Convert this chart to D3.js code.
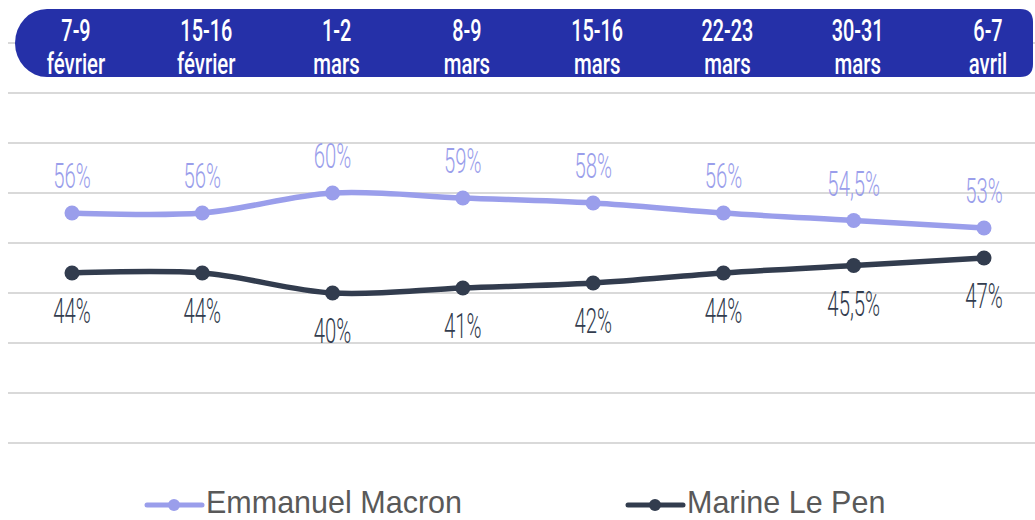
<!DOCTYPE html>
<html>
<head>
<meta charset="utf-8">
<script src="https://cdn.jsdelivr.net/npm/d3@7/dist/d3.min.js"></script>
<style>
  body { margin: 0; background: #fff; }
  svg { display: block; }
</style>
</head>
<body>
<script>
// dates (two lines in the header)
const datesTop = ["7-9", "15-16", "1-2", "8-9", "15-16", "22-23", "30-31", "6-7"];
const datesBottom = ["février", "février", "mars", "mars", "mars", "mars", "mars", "avril"];

const macron = [56, 56, 60, 59, 58, 56, 54.5, 53];
const lepen = [44, 44, 40, 41, 42, 44, 45.5, 47];

const seriesNames = ["Emmanuel Macron", "Marine Le Pen"];
const gridValues = [10, 20, 30, 40, 50, 60, 70, 80, 90];

const width = 1035, height = 520;
const colMacron = "#9a9eeb";
const colLepen = "#323c4e";
const headerBlue = "#2530a8";

const svg = d3.select("body").append("svg")
  .attr("width", width)
  .attr("height", height);

const x = d3.scalePoint()
  .domain(d3.range(datesTop.length))
  .range([72, 984]);

const y = d3.scaleLinear()
  .domain([40, 60])
  .range([293, 193]);

// grid
svg.append("g")
  .selectAll("line")
  .data(gridValues)
  .join("line")
  .attr("x1", 8)
  .attr("x2", width)
  .attr("y1", d => y(d))
  .attr("y2", d => y(d))
  .attr("stroke", "#d9d9d9")
  .attr("stroke-width", 2);

// header band, pill on the left
const hx0 = 15, hx1 = 1033, hy0 = 9, hy1 = 77, rl = 32, rr = 13;
svg.append("path")
  .attr("d", `M${hx0 + rl},${hy0} L${hx1 - rr},${hy0} Q${hx1},${hy0} ${hx1},${hy0 + rr}
    L${hx1},${hy1 - rr} Q${hx1},${hy1} ${hx1 - rr},${hy1} L${hx0 + rl},${hy1}
    A${rl},${(hy1 - hy0) / 2} 0 0 1 ${hx0},${(hy0 + hy1) / 2}
    A${rl},${(hy1 - hy0) / 2} 0 0 1 ${hx0 + rl},${hy0} Z`)
  .attr("fill", headerBlue);

const head = svg.append("g").selectAll("g")
  .data(datesTop)
  .join("g")
  .attr("transform", (d, i) => `translate(${x(i) + 4},0)`)
  .attr("font-family", "Roboto, 'Liberation Sans', sans-serif")
  .attr("font-weight", 500)
  .attr("fill", "#fff")
  .attr("text-anchor", "middle");

head.append("text")
  .attr("transform", "translate(0,41) scale(0.64,1)")
  .attr("font-size", 31)
  .text(d => d);

head.append("text")
  .attr("transform", "translate(0,74) scale(0.68,1)")
  .attr("font-size", 30)
  .text((d, i) => datesBottom[i]);

// lines
const line = d3.line()
  .x((d, i) => x(i))
  .y(d => y(d))
  .curve(d3.curveCatmullRom.alpha(0.5));

const series = [
  { name: seriesNames[0], values: macron, color: colMacron, dy: -25 },
  { name: seriesNames[1], values: lepen, color: colLepen, dy: 50 }
];

const fmt = v => String(v).replace(".", ",") + "%";

series.forEach(s => {
  const g = svg.append("g");
  g.append("path")
    .attr("d", line(s.values))
    .attr("fill", "none")
    .attr("stroke", s.color)
    .attr("stroke-width", 5.5);
  g.selectAll("circle")
    .data(s.values)
    .join("circle")
    .attr("cx", (d, i) => x(i))
    .attr("cy", d => y(d))
    .attr("r", 7.5)
    .attr("fill", s.color);
  g.selectAll("text")
    .data(s.values)
    .join("text")
    .attr("transform", (d, i) => `translate(${x(i)},${y(d) + s.dy}) scale(0.58,1)`)
    .attr("text-anchor", "middle")
    .attr("font-family", "Roboto, 'Liberation Sans', sans-serif")
    .attr("font-weight", 300)
    .attr("font-size", 35)
    .attr("fill", s.color)
    .text(fmt);
});

// legend
const legendX = [147, 628];
const leg = svg.append("g").selectAll("g")
  .data(series)
  .join("g")
  .attr("transform", (d, i) => `translate(${legendX[i]},505)`);

leg.append("line")
  .attr("x1", 0).attr("x2", 55)
  .attr("stroke", d => d.color)
  .attr("stroke-width", 5)
  .attr("stroke-linecap", "round");
leg.append("circle")
  .attr("cx", 27)
  .attr("r", 6)
  .attr("fill", d => d.color);
leg.append("text")
  .attr("x", 59)
  .attr("y", 8)
  .attr("font-family", "'Liberation Sans', Arial, sans-serif")
  .attr("font-size", 30.5)
  .attr("fill", "#595959")
  .text(d => d.name);
</script>
</body>
</html>
